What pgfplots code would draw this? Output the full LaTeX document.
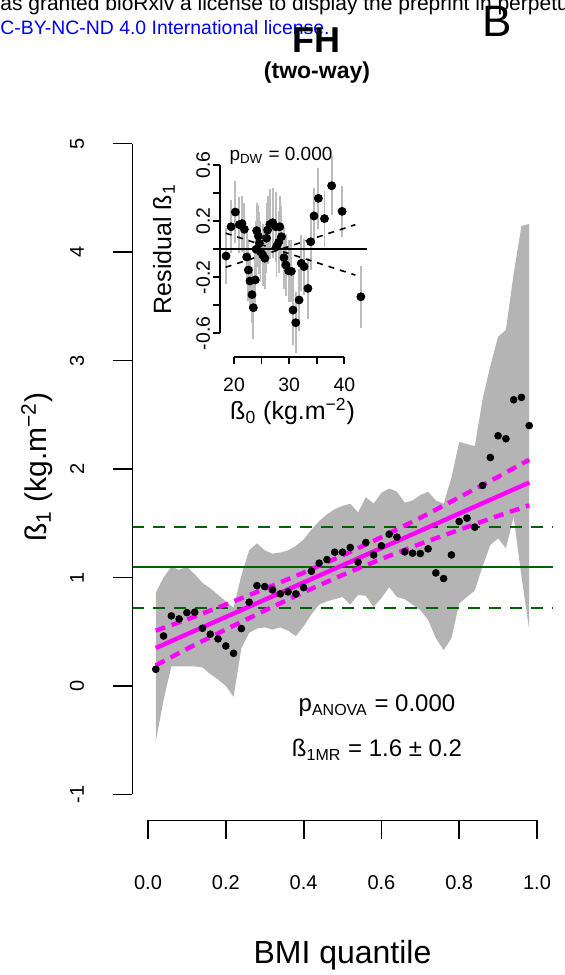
\documentclass[border=0pt]{standalone}
\usepackage{pgfplots}
\usepackage{pgfplotstable}
\pgfplotsset{compat=1.18}
\usepackage{fontspec}
\setmainfont{Liberation Sans}
\definecolor{bandgray}{RGB}{180,180,180}
\definecolor{bargray}{RGB}{188,188,188}
\definecolor{dkgreen}{RGB}{0,100,0}
\definecolor{mag}{RGB}{255,0,255}
\definecolor{linkblue}{RGB}{0,0,255}

% main points: BMI quantile, beta1
\pgfplotstableread{
u v
0.02 0.154
0.04 0.461
0.06 0.646
0.08 0.618
0.10 0.676
0.12 0.680
0.14 0.532
0.16 0.477
0.18 0.434
0.20 0.369
0.22 0.301
0.24 0.529
0.26 0.772
0.28 0.925
0.30 0.916
0.32 0.886
0.34 0.849
0.36 0.867
0.38 0.849
0.40 0.907
0.42 1.058
0.44 1.132
0.46 1.165
0.48 1.233
0.50 1.233
0.52 1.276
0.54 1.141
0.56 1.322
0.58 1.208
0.60 1.292
0.62 1.399
0.64 1.372
0.66 1.236
0.68 1.224
0.70 1.221
0.72 1.264
0.74 1.042
0.76 0.990
0.78 1.208
0.80 1.516
0.82 1.547
0.84 1.464
0.86 1.848
0.88 2.106
0.90 2.306
0.92 2.279
0.94 2.638
0.96 2.660
0.98 2.400
}\mainpts

% inset: beta0, residual beta1, error
\pgfplotstableread{
b r e
18.55 -0.048 0.20
19.46 0.161 0.19
20.24 0.266 0.22
20.97 0.176 0.20
21.45 0.183 0.20
21.87 0.143 0.19
22.30 -0.055 0.20
22.60 -0.148 0.22
22.90 -0.226 0.20
23.26 -0.324 0.20
23.50 -0.417 0.22
23.86 -0.219 0.20
24.00 0.000 0.20
24.10 0.133 0.20
24.40 0.095 0.22
24.60 0.043 0.22
24.80 -0.017 0.22
25.20 -0.040 0.22
25.60 -0.064 0.22
25.90 0.079 0.25
26.10 0.138 0.24
26.50 0.178 0.25
27.00 0.190 0.25
27.60 0.161 0.25
27.70 0.019 0.22
28.10 0.050 0.22
28.30 0.161 0.22
28.60 0.090 0.22
29.06 -0.060 0.22
29.40 -0.112 0.22
29.90 -0.153 0.22
30.40 -0.157 0.22
30.70 -0.434 0.25
31.20 -0.524 0.22
31.80 -0.362 0.22
32.20 -0.100 0.20
32.70 -0.124 0.20
33.40 -0.279 0.22
33.90 0.054 0.20
34.50 0.238 0.20
35.30 0.364 0.22
36.40 0.219 0.20
37.70 0.454 0.21
39.60 0.271 0.18
43.00 -0.339 0.22
}\insetpts

\begin{document}
\begin{tikzpicture}
% page header fragments
\node[anchor=base west, inner sep=0pt, font=\fontsize{10.5}{12}\selectfont] at (0pt,482pt)
  {\llap{h}as granted bioRxiv a license to display the preprint in perpetuity. It is made available under a};
\node[anchor=base west, inner sep=0pt, font=\fontsize{9.7}{11}\selectfont, text=linkblue] at (0pt,470pt)
  {\llap{C}C-BY-NC-ND 4.0 International license.};
\node[font=\fontsize{22}{24}\selectfont, inner sep=0pt] at (248.75pt,477pt) {B};
\node[font=\fontsize{18}{20}\selectfont\bfseries, inner sep=0pt] at (158.4pt,467.2pt) {FH};
\node[font=\fontsize{11.5}{13}\selectfont\bfseries, inner sep=0pt] at (158.5pt,451pt) {(two-way)};

% ---------------- main axis ----------------
\begin{axis}[
  at={(66.22pt,77.25pt)}, anchor=south west,
  scale only axis, width=210.06pt, height=351.5pt,
  xmin=-0.04, xmax=1.04, ymin=-1.24, ymax=5.24,
  hide axis, clip=false]
% confidence band
\addplot[draw=none, fill=bandgray] coordinates {
(0.02,0.86) (0.04,1.00) (0.06,1.10) (0.08,1.07) (0.10,1.10) (0.12,1.03) (0.14,0.95)
(0.16,0.90) (0.18,0.84) (0.20,0.78) (0.22,0.72) (0.24,1.02) (0.26,1.25) (0.28,1.315)
(0.30,1.25) (0.32,1.22) (0.34,1.23) (0.36,1.25) (0.38,1.29) (0.40,1.35) (0.42,1.44)
(0.44,1.52) (0.46,1.58) (0.48,1.63) (0.50,1.66) (0.52,1.68) (0.54,1.60) (0.56,1.74)
(0.58,1.68) (0.60,1.78) (0.62,1.82) (0.64,1.79) (0.66,1.69) (0.68,1.71) (0.70,1.76)
(0.72,1.79) (0.74,1.71) (0.76,1.68) (0.78,1.92) (0.80,2.25) (0.82,2.23) (0.84,2.21)
(0.86,2.64) (0.88,2.95) (0.90,3.22) (0.92,3.28) (0.94,3.80) (0.96,4.24) (0.98,4.26)
(0.98,0.52) (0.96,1.01) (0.94,1.56) (0.92,1.27) (0.90,1.36) (0.88,1.30) (0.86,1.10)
(0.84,0.88) (0.82,0.82) (0.80,0.76) (0.78,0.44) (0.76,0.33) (0.74,0.44) (0.72,0.61)
(0.70,0.70) (0.68,0.75) (0.66,0.80) (0.64,0.82) (0.62,0.91) (0.60,0.81) (0.58,0.73)
(0.56,0.83) (0.54,0.84) (0.52,0.75) (0.50,0.82) (0.48,0.80) (0.46,0.78) (0.44,0.75)
(0.42,0.66) (0.40,0.55) (0.38,0.46) (0.36,0.51) (0.34,0.54) (0.32,0.52) (0.30,0.54)
(0.28,0.53) (0.26,0.49) (0.24,0.35) (0.22,-0.10) (0.20,0.00) (0.18,0.06) (0.16,0.11)
(0.14,0.17) (0.12,0.18) (0.10,0.18) (0.08,0.18) (0.06,0.18) (0.04,-0.13) (0.02,-0.51)
};
% reference lines
\addplot[dkgreen, line width=1pt] coordinates {(-0.04,1.097) (1.04,1.097)};
\addplot[dkgreen, line width=1pt, dash pattern=on 6pt off 4.5pt] coordinates {(-0.04,1.465) (1.04,1.465)};
\addplot[dkgreen, line width=1pt, dash pattern=on 6pt off 4.5pt] coordinates {(-0.04,0.719) (1.04,0.719)};
% regression line and its confidence limits
\addplot[mag, line width=2.2pt] coordinates {(0.02,0.350) (0.98,1.875)};
\addplot[mag, line width=2.2pt, dash pattern=on 5pt off 3.4pt] coordinates {
(0.02,0.510) (0.10,0.612) (0.20,0.751) (0.30,0.895) (0.40,1.044) (0.50,1.203)
(0.60,1.371) (0.70,1.550) (0.80,1.739) (0.90,1.928) (0.98,2.085)};
\addplot[mag, line width=2.2pt, dash pattern=on 5pt off 3.4pt] coordinates {
(0.02,0.190) (0.10,0.342) (0.20,0.521) (0.30,0.695) (0.40,0.864) (0.50,1.023)
(0.60,1.171) (0.70,1.310) (0.80,1.439) (0.90,1.568) (0.98,1.665)};
% points
\addplot[only marks, mark=*, mark size=1.7pt, black] table[x=u, y=v] {\mainpts};
% axes (R style)
\draw[line width=0.9pt] (axis cs:0,-1.24) -- (axis cs:1,-1.24);
\pgfplotsinvokeforeach{0,0.2,0.4,0.6,0.8,1}{
  \draw[line width=0.9pt] (axis cs:#1,-1.24) -- ++(0pt,-9.5pt);
}
\draw[line width=0.9pt] (axis cs:-0.04,-1) -- (axis cs:-0.04,5);
\pgfplotsinvokeforeach{-1,0,1,2,3,4,5}{
  \draw[line width=0.9pt] (axis cs:-0.04,#1) -- ++(-9.5pt,0pt);
  \node[rotate=90, font=\fontsize{10}{12}\selectfont, inner sep=0pt] at ([xshift=-27.7pt]axis cs:-0.04,#1) {#1};
}
\node[font=\fontsize{10}{12}\selectfont, inner sep=0pt] at ([yshift=-31pt]axis cs:0,-1.24) {0.0};
\node[font=\fontsize{10}{12}\selectfont, inner sep=0pt] at ([yshift=-31pt]axis cs:0.2,-1.24) {0.2};
\node[font=\fontsize{10}{12}\selectfont, inner sep=0pt] at ([yshift=-31pt]axis cs:0.4,-1.24) {0.4};
\node[font=\fontsize{10}{12}\selectfont, inner sep=0pt] at ([yshift=-31pt]axis cs:0.6,-1.24) {0.6};
\node[font=\fontsize{10}{12}\selectfont, inner sep=0pt] at ([yshift=-31pt]axis cs:0.8,-1.24) {0.8};
\node[font=\fontsize{10}{12}\selectfont, inner sep=0pt] at ([yshift=-31pt]axis cs:1,-1.24) {1.0};
\end{axis}

% axis titles and annotations of the main panel
\node[font=\fontsize{16}{18}\selectfont, inner sep=0pt] at (171.25pt,10pt) {BMI quantile};
\node[rotate=90, font=\fontsize{15}{17}\selectfont, inner sep=0pt] at (18.5pt,254pt)
  {ß\textsubscript{1} (kg.m\textsuperscript{−2})};
\node[font=\fontsize{12}{14}\selectfont, inner sep=0pt] at (188.5pt,134.5pt) {p\textsubscript{ANOVA} = 0.000};
\node[font=\fontsize{12}{14}\selectfont, inner sep=0pt] at (188.5pt,112.5pt) {ß\textsubscript{1MR} = 1.6 ± 0.2};

% ---------------- inset ----------------
\begin{axis}[
  at={(110pt,309pt)}, anchor=south west,
  scale only axis, width=73.3pt, height=107.7pt,
  xmin=17.46, xmax=44.04, ymin=-0.769, ymax=0.769,
  hide axis, clip=false]
\addplot[forget plot, only marks, mark=none,
  error bars/.cd, y dir=both, y explicit, error mark=none,
  error bar style={draw=bargray, line width=0.9pt}]
  table[x=b, y=r, y error=e] {\insetpts};
\addplot[black, line width=1pt] coordinates {(17.46,0) (44.04,0)};
\addplot[black, line width=0.8pt, dash pattern=on 3pt off 3pt] coordinates {(18.5,0.115) (42,-0.184)};
\addplot[black, line width=0.8pt, dash pattern=on 3pt off 3pt] coordinates {(18.5,-0.128) (42,0.176)};
\addplot[only marks, mark=*, mark size=1.65pt, black] table[x=b, y=r] {\insetpts};
\draw[line width=0.9pt] (axis cs:20,-0.769) -- (axis cs:40,-0.769);
\pgfplotsinvokeforeach{20,25,30,35,40}{
  \draw[line width=0.9pt] (axis cs:#1,-0.769) -- ++(0pt,-3.5pt);
}
\pgfplotsinvokeforeach{20,30,40}{
  \node[font=\fontsize{9.7}{11}\selectfont, inner sep=0pt] at ([yshift=-14pt]axis cs:#1,-0.769) {#1};
}
\draw[line width=0.9pt] (axis cs:17.46,-0.6) -- (axis cs:17.46,0.6);
\pgfplotsinvokeforeach{-0.6,-0.4,-0.2,0,0.2,0.4,0.6}{
  \draw[line width=0.9pt] (axis cs:17.46,#1) -- ++(-3.5pt,0pt);
}
\pgfplotsinvokeforeach{-0.6,-0.2,0.2,0.6}{
  \node[rotate=90, font=\fontsize{9.7}{11}\selectfont, inner sep=0pt] at ([xshift=-8.4pt]axis cs:17.46,#1) {#1};
}
\end{axis}
\node[font=\fontsize{12.5}{14}\selectfont, inner sep=0pt] at (146.3pt,281.7pt)
  {ß\textsubscript{0} (kg.m\textsuperscript{−2})};
\node[rotate=90, font=\fontsize{12.5}{14}\selectfont, inner sep=0pt] at (82pt,362.9pt)
  {Residual ß\textsubscript{1}};
\node[font=\fontsize{9.5}{11}\selectfont, inner sep=0pt] at (140.5pt,409.8pt) {p\textsubscript{DW} = 0.000};

\pgfresetboundingbox
\path (0pt,0pt) rectangle (282pt,487.5pt);
\end{tikzpicture}
\end{document}
